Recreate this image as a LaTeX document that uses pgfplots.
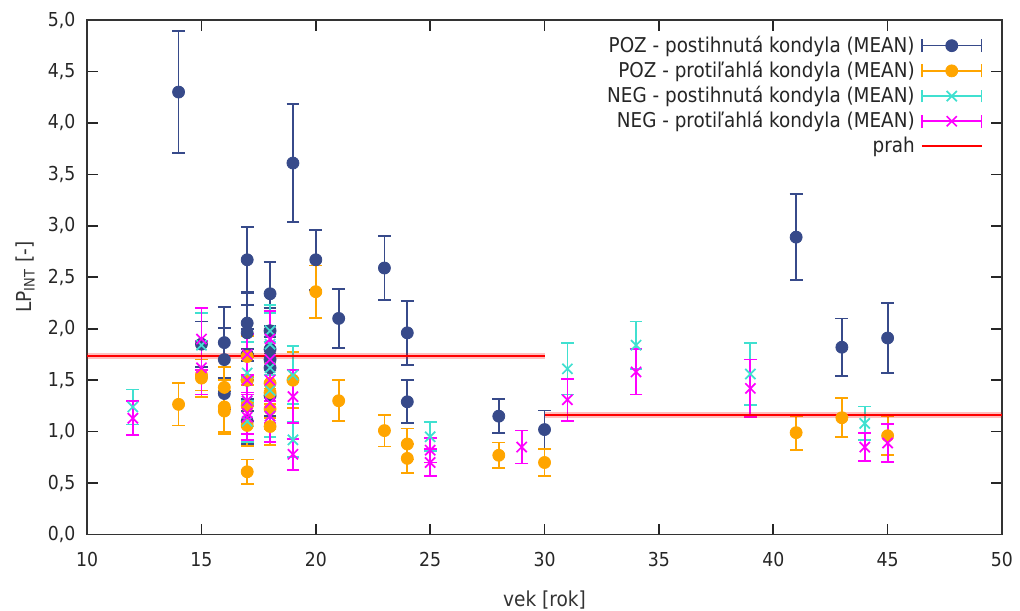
\documentclass[border=0pt]{standalone}
\usepackage{fontspec}
\setmainfont{DejaVu Sans Condensed}
\usepackage{pgfplots}
\pgfplotsset{compat=1.18}
\usepackage{pgfplotstable}

\definecolor{cnavy}{RGB}{55,74,138}
\definecolor{corange}{RGB}{255,165,0}
\definecolor{ccyan}{RGB}{64,224,208}
\definecolor{cmag}{RGB}{255,0,255}

\pgfplotstableread{
x y e
14 4.30 0.59
15 1.85 0.22
16 1.865 0.35
16 1.70 0.31
16 1.37 0.15
17 2.67 0.32
17 2.055 0.30
17 1.96 0.27
17 1.75 0.25
17 1.50 0.30
17 1.10 0.22
18 2.34 0.31
18 1.98 0.22
18 1.80 0.20
18 1.70 0.22
18 1.62 0.25
18 1.35 0.20
19 3.61 0.57
20 2.67 0.29
21 2.10 0.285
23 2.59 0.31
24 1.96 0.31
24 1.29 0.21
28 1.15 0.165
30 1.02 0.185
41 2.89 0.42
43 1.82 0.28
45 1.91 0.34
}\tNavy

\pgfplotstableread{
x y e
14 1.265 0.205
15 1.55 0.15
15 1.52 0.18
16 1.43 0.20
16 1.24 0.26
16 1.20 0.20
17 1.73 0.20
17 1.50 0.22
17 1.25 0.20
17 1.06 0.20
17 0.61 0.12
18 1.47 0.20
18 1.38 0.25
18 1.22 0.20
18 1.05 0.18
19 1.50 0.27
20 2.36 0.255
21 1.30 0.20
23 1.01 0.155
24 0.88 0.15
24 0.74 0.14
28 0.77 0.125
30 0.70 0.135
41 0.99 0.165
43 1.135 0.19
45 0.96 0.19
}\tOrng

\pgfplotstableread{
x y e
12 1.24 0.17
15 1.84 0.31
17 1.57 0.30
17 1.30 0.25
17 1.10 0.20
18 1.98 0.25
18 1.85 0.30
18 1.62 0.25
18 1.40 0.20
18 1.15 0.20
19 1.55 0.28
19 0.92 0.17
25 0.95 0.14
31 1.61 0.25
34 1.84 0.23
39 1.56 0.30
44 1.08 0.165
}\tCyan

\pgfplotstableread{
x y e
12 1.13 0.165
15 1.90 0.30
15 1.62 0.26
17 1.75 0.20
17 1.50 0.25
17 1.30 0.20
17 1.18 0.20
17 1.14 0.22
18 1.90 0.27
18 1.70 0.30
18 1.50 0.20
18 1.28 0.20
18 1.15 0.25
19 1.34 0.26
19 0.78 0.15
25 0.82 0.12
25 0.70 0.13
29 0.85 0.16
31 1.31 0.205
34 1.58 0.22
39 1.42 0.28
44 0.85 0.135
45 0.89 0.185
}\tMagenta

\pgfplotsset{
  ebleg/.style={legend image code/.code={
    \path[draw=#1, line width=0.8pt] (0cm,-3.2pt) -- (0cm,3.2pt) (0cm,0cm) -- (1.05cm,0cm) (1.05cm,-3.2pt) -- (1.05cm,3.2pt);
    \draw[##1, only marks] plot coordinates {(0.525cm,0cm)};
  }},
  lnleg/.style={legend image code/.code={
    \draw[##1] (0cm,0cm) -- (1.05cm,0cm);
  }},
  eb/.style={only marks, error bars/.cd, y dir=both, y explicit,
    error bar style={line width=0.9pt, solid},
    error mark options={rotate=90, mark size=3.2pt, line width=0.9pt, solid},
    /pgfplots/.cd},
}

\begin{document}
\fontsize{9.5}{11.5}\selectfont
\begin{tikzpicture}
\begin{axis}[
  name=ax,
  scale only axis, width=457pt, height=257pt,
  xmin=10, xmax=50, ymin=0, ymax=5,
  xtick={10,15,20,25,30,35,40,45,50},
  ytick={0,0.5,1,1.5,2,2.5,3,3.5,4,4.5,5},
  /pgf/number format/assume math mode=true,
  yticklabel style={/pgf/number format/.cd, fixed, fixed zerofill, precision=1, use comma, /tikz/.cd, xshift=-2.5pt},
  xticklabel style={yshift=-5.5pt},
  ticklabel style={font=\fontsize{9.6}{11}\selectfont, text=black!85},
  tick align=inside, major tick length=5.5pt,
  tick style={black!85, line width=0.8pt},
  axis line style={black!80, line width=0.8pt},
  xlabel={vek [rok]}, ylabel={LP\textsubscript{INT} [-]},
  label style={font=\fontsize{10.3}{12}\selectfont, text=black!80},
  x label style={at={(axis description cs:0.5,-0.128)}, anchor=center},
  y label style={at={(axis description cs:-0.0678,0.5)}, anchor=center},
  legend style={draw=none, fill=none, at={(0.986,0.982)}, anchor=north east,
    font=\fontsize{10.2}{12}\selectfont, text=black!85,
    row sep=0.6pt, nodes={inner ysep=1.2pt, inner xsep=3pt}},
  legend cell align=right, legend plot pos=right,
]
\addplot[cnavy, mark=*, mark size=3pt, mark options={fill=cnavy, solid}, ebleg={cnavy}, eb]
  table[x=x, y=y, y error=e] {\tNavy};
\addlegendentry{POZ - postihnutá kondyla (MEAN)}
\addplot[corange, mark=*, mark size=3pt, mark options={fill=corange, solid}, ebleg={corange}, eb]
  table[x=x, y=y, y error=e] {\tOrng};
\addlegendentry{POZ - protiľahlá kondyla (MEAN)}
\addplot[ccyan, mark=x, mark size=3.6pt, mark options={line width=0.85pt, solid}, ebleg={ccyan}, eb]
  table[x=x, y=y, y error=e] {\tCyan};
\addlegendentry{NEG - postihnutá kondyla (MEAN)}
\addplot[cmag, mark=x, mark size=3.6pt, mark options={line width=0.85pt, solid}, ebleg={cmag}, eb]
  table[x=x, y=y, y error=e] {\tMagenta};
\addlegendentry{NEG - protiľahlá kondyla (MEAN)}
\addplot[red, opacity=0.25, line width=3pt, forget plot, unbounded coords=jump]
  coordinates {(10,1.735) (30,1.735) (30,nan) (30,1.165) (50,1.165)};
\addplot[red, line width=1.1pt, unbounded coords=jump, lnleg]
  coordinates {(10,1.735) (30,1.735) (30,nan) (30,1.165) (50,1.165)};
\addlegendentry{prah}
\end{axis}
\pgfresetboundingbox
\path ([xshift=-43.5pt,yshift=-38pt]ax.south west) rectangle ([xshift=9pt,yshift=10pt]ax.north east);
\end{tikzpicture}
\end{document}
